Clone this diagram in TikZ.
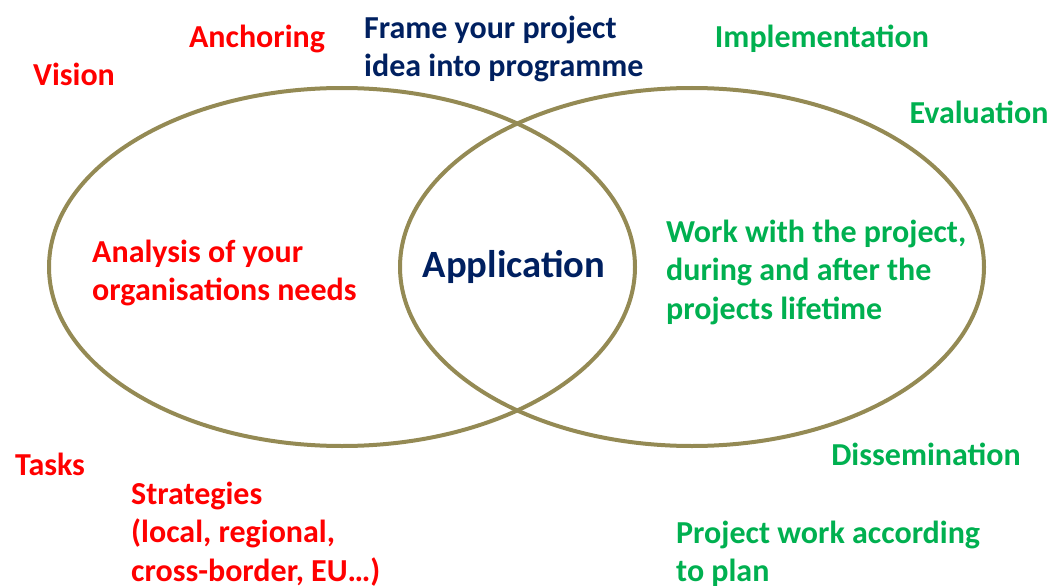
\documentclass[tikz,border=0pt]{standalone}
\usepackage{fontspec}
\setmainfont{Carlito}
\definecolor{cred}{HTML}{FF0000}
\definecolor{cnavy}{HTML}{002060}
\definecolor{cgreen}{HTML}{00B050}
\definecolor{colive}{HTML}{948A54}
\begin{document}
\begin{tikzpicture}[x=1pt,y=-1pt,
  ring/.style={draw=colive,line width=4pt},
  lbl/.style={inner sep=0pt,font=\fontsize{32}{38.5}\selectfont\bfseries},
  redt/.style={lbl,text=cred},
  greent/.style={lbl,text=cgreen},
  navyt/.style={lbl,text=cnavy},
  blk/.style={align=left,anchor=north west}]
\useasboundingbox (0,0) rectangle (1050,586);
\draw[ring] (342,267) ellipse [x radius=293,y radius=179];
\draw[ring] (692,267) ellipse [x radius=292,y radius=179];
\node[redt,anchor=base] (anch) at (257,48) {Anchoring};
\node[redt,anchor=base] (vis) at (74,85) {Vision};
\node[navyt,blk] (frame) at (364,38-26.95) {\strut Frame your project\\idea into programme};
\node[greent,anchor=base] (impl) at (822,48) {Implementation};
\node[greent,anchor=base] (eval) at (979,124) {Evaluation};
\node[redt,blk] (anal) at (92,262-26.95) {\strut Analysis of your\\organisations needs};
\node[navyt,anchor=base,font=\fontsize{38.6}{46}\selectfont\bfseries] (app) at (514,277) {Application};
\node[greent,blk] (work) at (666,242-26.95) {\strut Work with the project,\\during and after the\\projects lifetime};
\node[redt,anchor=base] (tasks) at (50,475) {Tasks};
\node[redt,blk] (strat) at (131,504-26.95) {\strut Strategies\\(local, regional,\\cross-border, EU…)};
\node[greent,anchor=base] (diss) at (926,465) {Dissemination};
\node[greent,blk] (plan) at (676,543-26.95) {\strut Project work according\\to plan};
\end{tikzpicture}
\end{document}
